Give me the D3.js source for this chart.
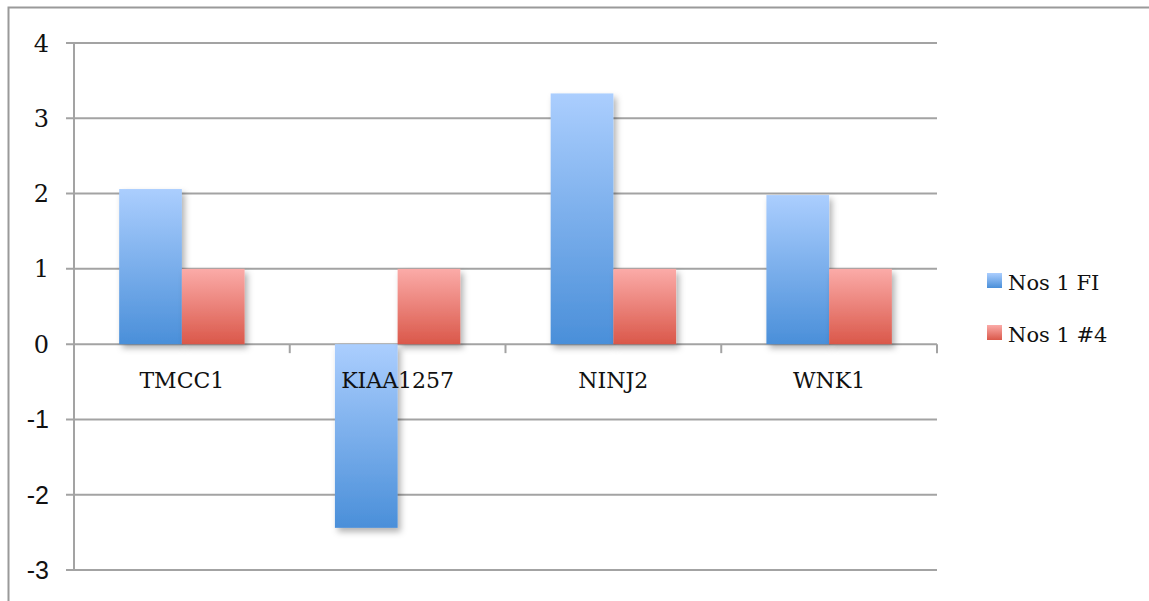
<!DOCTYPE html>
<html>
<head>
<meta charset="utf-8">
<script src="https://cdn.jsdelivr.net/npm/d3@7/dist/d3.min.js"></script>
<style>
  html, body { margin: 0; padding: 0; background: #fff; }
  svg { display: block; }
</style>
</head>
<body>
<svg id="chart" width="1149" height="601"></svg>
<script>
// Gene expression values per gene, two sample series
const categories = ["TMCC1", "KIAA1257", "NINJ2", "WNK1"];
const seriesNames = ["Nos 1 FI", "Nos 1 #4"];
const nos1FI = [2.06, -2.44, 3.33, 1.98];
const nos1No4 = [1, 1, 1, 1];
const yTicks = [-3, -2, -1, 0, 1, 2, 3, 4];

const seriesValues = [nos1FI, nos1No4];
const gradients = [
  { id: "gradBlue", top: "#abcefe", bottom: "#4a8fd9" },
  { id: "gradRed", top: "#fbaba8", bottom: "#da584a" }
];
const serif = "'DejaVu Serif', 'Liberation Serif', serif";
const sans = "'Liberation Sans', 'DejaVu Sans', sans-serif";

const svg = d3.select("#chart");
const plot = { left: 74, right: 937, top: 43, bottom: 570 };

// outer frame (clipped by the canvas on the right and bottom)
svg.append("rect")
  .attr("x", 8.5).attr("y", 7.5)
  .attr("width", 1160).attr("height", 620)
  .attr("fill", "none").attr("stroke", "#9a9a9a").attr("stroke-width", 2);

const defs = svg.append("defs");
gradients.forEach(g => {
  const lg = defs.append("linearGradient")
    .attr("id", g.id).attr("x1", 0).attr("y1", 0).attr("x2", 0).attr("y2", 1);
  lg.append("stop").attr("offset", "0%").attr("stop-color", g.top);
  lg.append("stop").attr("offset", "100%").attr("stop-color", g.bottom);
});
const shadow = defs.append("filter").attr("id", "barShadow")
  .attr("x", "-20%").attr("y", "-10%").attr("width", "150%").attr("height", "130%");
shadow.append("feDropShadow")
  .attr("dx", 3).attr("dy", 4).attr("stdDeviation", 3)
  .attr("flood-color", "#000").attr("flood-opacity", 0.3);

const y = d3.scaleLinear().domain([-3, 4]).range([plot.bottom, plot.top]);
const x0 = d3.scaleBand().domain(categories).range([plot.left, plot.right]).padding(0);
const x1 = d3.scaleBand().domain(seriesNames).range([0, x0.bandwidth()])
  .paddingInner(0).paddingOuter(0.72);

// horizontal gridlines with left tick stubs
svg.append("g").selectAll("line").data(yTicks).join("line")
  .attr("x1", plot.left - 8).attr("x2", plot.right)
  .attr("y1", d => y(d)).attr("y2", d => y(d))
  .attr("stroke", "#a3a3a3").attr("stroke-width", 2);

// vertical axis line
svg.append("line")
  .attr("x1", plot.left).attr("x2", plot.left)
  .attr("y1", y(4)).attr("y2", y(-3))
  .attr("stroke", "#a3a3a3").attr("stroke-width", 2);

// y tick labels (negative values set in the sans face)
svg.append("g").selectAll("text").data(yTicks).join("text")
  .attr("x", 49).attr("y", d => y(d))
  .attr("dy", "0.36em")
  .attr("text-anchor", "end")
  .attr("font-family", d => d < 0 ? sans : serif)
  .attr("font-size", d => d < 0 ? 25 : 24)
  .attr("fill", "#111")
  .text(d => d);

// bars
const groups = svg.append("g").selectAll("g").data(categories).join("g")
  .attr("transform", d => `translate(${x0(d)},0)`);
groups.selectAll("rect")
  .data((c, i) => seriesNames.map((s, k) => ({ s, k, v: seriesValues[k][i] })))
  .join("rect")
  .attr("x", d => x1(d.s))
  .attr("width", x1.bandwidth())
  .attr("y", d => y(Math.max(0, d.v)))
  .attr("height", d => Math.abs(y(d.v) - y(0)))
  .attr("fill", d => `url(#${gradients[d.k].id})`)
  .attr("filter", "url(#barShadow)");

// category boundary ticks on the zero line
const boundaries = categories.map(c => x0(c) + x0.bandwidth());
svg.append("g").selectAll("line").data(boundaries).join("line")
  .attr("x1", d => d).attr("x2", d => d)
  .attr("y1", y(0)).attr("y2", y(0) + 9)
  .attr("stroke", "#a3a3a3").attr("stroke-width", 2);

// category labels
svg.append("g").selectAll("text").data(categories).join("text")
  .attr("x", d => x0(d) + x0.bandwidth() / 2)
  .attr("y", y(0) + 44)
  .attr("text-anchor", "middle")
  .attr("font-family", serif)
  .attr("font-size", 22)
  .attr("fill", "#111")
  .text(d => d);

// legend
const legend = svg.append("g").attr("transform", "translate(987,273)");
const items = legend.selectAll("g").data(seriesNames).join("g")
  .attr("transform", (d, i) => `translate(0,${i * 52})`);
items.append("rect")
  .attr("width", 15).attr("height", 15)
  .attr("fill", (d, i) => `url(#${gradients[i].id})`);
items.append("text")
  .attr("x", 21).attr("y", 17)
  .attr("font-family", serif)
  .attr("font-size", 21)
  .attr("fill", "#111")
  .text(d => d);
</script>
</body>
</html>
